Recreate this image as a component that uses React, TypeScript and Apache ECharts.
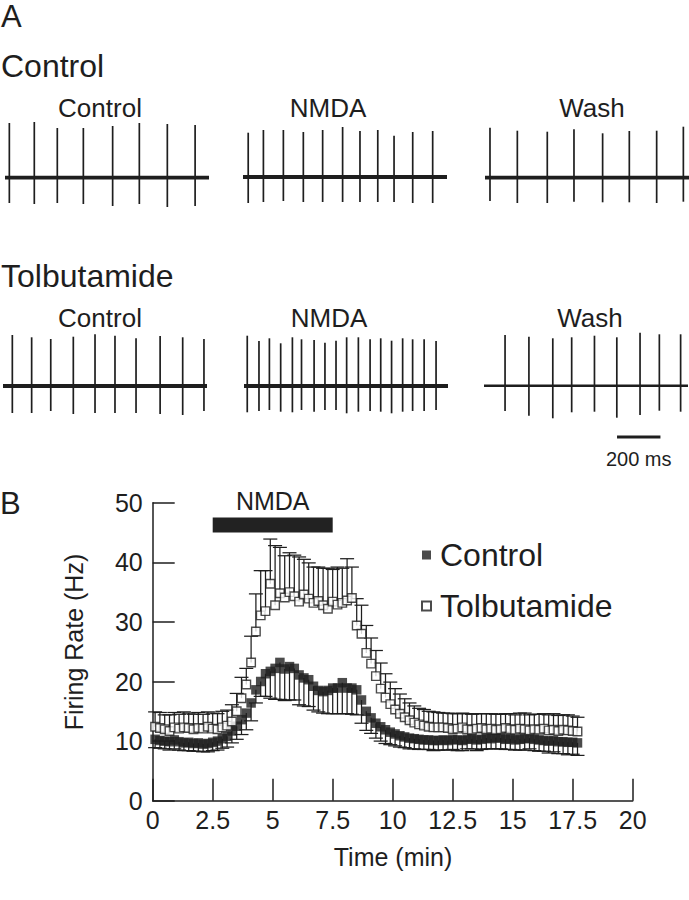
import React, { useEffect, useRef } from "react";
import * as echarts from "echarts";

const FONT = '"Liberation Sans", Arial, Helvetica, sans-serif';
const INK = "#1e1e1e";

// ---------- Panel A: spike trains, [time (ms), peak amplitude, trough amplitude] ----------
const TRACE_MS = 940;
const ctlControlSpikes = [[20, 54.7, 25.3], [135, 55.7, 26.3], [241, 49.7, 25.3], [361, 49.7, 26.3], [496, 51.7, 28.3], [619, 54.7, 26.3], [748, 53.7, 29.3], [876, 52.7, 28.3]];
const ctlNmdaSpikes = [[24, 44.3, 26], [94, 47, 25], [186, 47, 24], [278, 45, 25], [367, 47, 25], [459, 50, 25], [539, 46, 25], [621, 47, 25], [696, 41.3, 25], [782, 45, 26], [874, 46, 26]];
const ctlWashSpikes = [[23, 50, 23.3], [149, 47, 25.3], [287, 46, 25.3], [410, 48.4, 24], [542, 44.4, 24.6], [665, 46.7, 24.6], [791, 47, 25.3], [914, 51, 24]];
const tolControlSpikes = [[43, 51, 27], [132, 48.7, 27], [220, 47, 25], [324, 49.3, 28], [424, 51.7, 27], [516, 50.3, 27], [613, 47.7, 27], [724, 50, 28], [828, 48.7, 29], [926, 47, 25]];
const tolNmdaSpikes = [[15, 50.3, 26.3], [69, 45, 25], [117, 47.7, 24], [169, 42.7, 25.7], [223, 48.7, 26.3], [265, 46.7, 24], [323, 46, 25.7], [373, 43.3, 24], [424, 45.3, 24], [473, 48.7, 27.3], [527, 48.7, 25.7], [581, 46.7, 25], [630, 47.7, 25.7], [680, 45.3, 27.3], [731, 47.7, 25.7], [777, 46.7, 25], [830, 46.7, 25], [885, 45, 24]];
const tolWashSpikes = [[97, 50.7, 25.3], [207, 49, 30], [317, 47.4, 32.6], [404, 48.4, 26.6], [509, 50, 26], [612, 48.4, 32], [719, 53, 29.3], [808, 51.4, 25], [906, 51.4, 26]];
const scaleBarMs = 200;

// ---------- Panel B: firing rate (Hz) vs time (min) ----------
const timeMin = [
  0.1, 0.3, 0.5, 0.7, 0.9, 1.1, 1.3, 1.5, 1.7, 1.9,
  2.1, 2.3, 2.5, 2.7, 2.9, 3.1, 3.3, 3.5, 3.7, 3.9,
  4.1, 4.3, 4.5, 4.7, 4.9, 5.1, 5.3, 5.5, 5.7, 5.9,
  6.1, 6.3, 6.5, 6.7, 6.9, 7.1, 7.3, 7.5, 7.7, 7.9,
  8.1, 8.3, 8.5, 8.7, 8.9, 9.1, 9.3, 9.5, 9.7, 9.9,
  10.1, 10.3, 10.5, 10.7, 10.9, 11.1, 11.3, 11.5, 11.7, 11.9,
  12.1, 12.3, 12.5, 12.7, 12.9, 13.1, 13.3, 13.5, 13.7, 13.9,
  14.1, 14.3, 14.5, 14.7, 14.9, 15.1, 15.3, 15.5, 15.7, 15.9,
  16.1, 16.3, 16.5, 16.7, 16.9, 17.1, 17.3, 17.5, 17.7,
];
const controlRate = [
  10.3, 10.1, 10.0, 9.9, 10.2, 9.9, 9.7, 9.8, 9.6, 9.7,
  9.5, 9.6, 9.8, 10.0, 10.4, 10.8, 11.7, 12.5, 13.6, 14.7,
  16.4, 18.6, 20.0, 21.3, 21.7, 22.2, 23.2, 22.1, 22.5, 22.2,
  21.1, 20.6, 20.3, 19.2, 18.5, 18.3, 18.5, 18.9, 18.9, 19.8,
  18.9, 18.9, 18.6, 16.9, 15.0, 13.9, 13.0, 12.4, 11.9, 11.5,
  11.2, 10.9, 10.7, 10.5, 10.4, 10.3, 10.2, 10.2, 10.1, 10.1,
  10.2, 10.1, 10.3, 10.2, 10.1, 10.3, 10.4, 10.2, 10.3, 10.5,
  10.4, 10.6, 10.5, 10.3, 10.4, 10.2, 10.3, 10.4, 10.5, 10.3,
  10.2, 10.1, 10.0, 10.1, 9.9, 9.9, 9.8, 9.8, 9.7,
];
const controlErr = [
  1.4, 1.3, 1.3, 1.4, 1.5, 1.4, 1.3, 1.4, 1.3, 1.4,
  1.3, 1.4, 1.4, 1.5, 1.6, 1.8, 2.0, 2.2, 2.5, 2.8,
  3.0, 2.2, 2.5, 3.8, 4.5, 5.2, 6.2, 5.3, 5.6, 5.3,
  5.0, 4.7, 4.5, 4.0, 3.6, 3.6, 3.9, 4.3, 4.3, 5.2,
  4.3, 4.4, 4.2, 3.9, 3.2, 2.6, 2.5, 2.4, 2.3, 2.1,
  2.0, 1.9, 1.8, 1.8, 1.7, 1.7, 1.6, 1.6, 1.7, 1.6,
  1.7, 1.6, 1.7, 1.8, 1.7, 1.6, 1.7, 1.8, 1.7, 1.8,
  1.7, 1.9, 1.8, 1.7, 1.8, 1.7, 1.8, 1.9, 1.8, 1.9,
  1.9, 1.8, 2.0, 1.9, 2.0, 2.0, 2.1, 2.0, 2.1,
];
const tolbutamideRate = [
  12.4, 12.2, 12.0, 11.7, 12.3, 12.1, 12.3, 12.2, 12.0, 12.2,
  12.1, 12.4, 12.1, 12.0, 12.3, 12.6, 13.3, 15.0, 17.2, 19.5,
  23.2, 28.4, 31.1, 31.8, 36.4, 32.8, 34.8, 34.1, 35.0, 34.3,
  33.4, 34.6, 33.9, 33.2, 33.5, 32.8, 32.2, 33.4, 32.9, 33.2,
  33.6, 34.0, 29.4, 28.0, 24.8, 23.0, 20.9, 18.8, 17.3, 16.2,
  15.3, 14.6, 14.0, 13.5, 13.1, 12.8, 12.6, 12.4, 12.3, 12.3,
  12.3, 12.2, 12.0, 12.1, 12.3, 12.0, 11.9, 12.1, 12.2, 12.0,
  12.1, 11.9, 12.0, 12.2, 12.0, 11.9, 12.1, 12.0, 11.8, 12.0,
  11.9, 12.1, 11.8, 11.9, 11.7, 11.9, 11.8, 11.7, 11.6,
];
const tolbutamideErr = [
  2.5, 2.6, 2.4, 2.7, 2.5, 2.4, 2.6, 2.5, 2.5, 2.6,
  2.4, 2.5, 2.6, 2.6, 2.7, 2.6, 2.8, 3.0, 3.5, 2.7,
  4.4, 6.3, 7.5, 6.8, 7.5, 10.0, 7.7, 7.0, 6.6, 6.9,
  7.5, 5.9, 6.0, 6.0, 5.7, 6.2, 6.8, 5.4, 6.3, 5.8,
  7.0, 5.2, 4.5, 4.8, 4.6, 4.3, 4.3, 4.3, 4.0, 3.7,
  3.5, 3.3, 3.1, 2.9, 2.8, 2.7, 2.7, 2.6, 2.6, 2.5,
  2.4, 2.5, 2.6, 2.5, 2.4, 2.6, 2.6, 2.5, 2.4, 2.6,
  2.5, 2.6, 2.5, 2.4, 2.6, 2.5, 2.6, 2.7, 2.6, 2.5,
  2.6, 2.5, 2.6, 2.7, 2.6, 2.5, 2.6, 2.5, 2.4,
];
const nmdaPeriod = [[2.5, 7.5]];
const xTicks = [0, 2.5, 5, 7.5, 10, 12.5, 15, 17.5, 20];
const yTicks = [0, 10, 20, 30, 40, 50];

export default function App() {
  const ref = useRef<HTMLDivElement>(null);

  useEffect(() => {
    const chart = echarts.init(ref.current as HTMLDivElement, null, { renderer: "svg" });

    const traceLayout = [
      { spikes: ctlControlSpikes, left: 5, top: 107.7, base: 3.8 },
      { spikes: ctlNmdaSpikes, left: 243, top: 107, base: 3.8 },
      { spikes: ctlWashSpikes, left: 485, top: 107.7, base: 3.8 },
      { spikes: tolControlSpikes, left: 3, top: 316, base: 3.8 },
      { spikes: tolNmdaSpikes, left: 244, top: 316, base: 3.8 },
      { spikes: tolWashSpikes, left: 484, top: 315.7, base: 2.6 },
    ];

    const grids: any[] = [];
    const xAxes: any[] = [];
    const yAxes: any[] = [];
    const series: any[] = [];

    traceLayout.forEach((tr, k) => {
      grids.push({ left: tr.left, top: tr.top, width: 204, height: 150 });
      xAxes.push({ type: "value", gridIndex: k, min: 0, max: TRACE_MS, show: false });
      yAxes.push({ type: "value", gridIndex: k, min: -80, max: 70, show: false });
      series.push({
        type: "line",
        xAxisIndex: k,
        yAxisIndex: k,
        data: [[0, 0], [TRACE_MS, 0]],
        symbol: "none",
        silent: true,
        lineStyle: { color: INK, width: tr.base },
      });
      series.push({
        type: "custom",
        xAxisIndex: k,
        yAxisIndex: k,
        silent: true,
        data: tr.spikes,
        encode: { x: 0, y: 1 },
        renderItem: (_p: any, api: any) => {
          const t = api.value(0);
          const a = api.coord([t, api.value(1)]);
          const b = api.coord([t, -api.value(2)]);
          return {
            type: "line",
            shape: { x1: a[0], y1: a[1], x2: b[0], y2: b[1] },
            style: { stroke: INK, lineWidth: 1.7 },
          };
        },
      });
    });

    // scale bar in the last trace grid
    series.push({
      type: "custom",
      xAxisIndex: 5,
      yAxisIndex: 5,
      silent: true,
      data: [[613, scaleBarMs]],
      encode: { x: 0 },
      renderItem: (_p: any, api: any) => {
        const s = api.value(0);
        const len = api.value(1);
        const a = api.coord([s, -51.3]);
        const b = api.coord([s + len, -51.3]);
        return {
          type: "group",
          children: [
            { type: "line", shape: { x1: a[0], y1: a[1], x2: b[0], y2: b[1] }, style: { stroke: INK, lineWidth: 3 } },
            {
              type: "text",
              x: (a[0] + b[0]) / 2,
              y: a[1] + 21.5,
              style: { text: `${len} ms`, fontSize: 20, fontFamily: FONT, fill: INK, align: "center", verticalAlign: "middle" },
            },
          ],
        };
      },
    });

    // Panel B grid
    const G = 6;
    grids.push({ left: 152.7, top: 502.7, width: 480, height: 298 });
    xAxes.push({
      type: "value",
      gridIndex: G,
      min: xTicks[0],
      max: xTicks[xTicks.length - 1],
      interval: 2.5,
      axisLine: { onZero: false, lineStyle: { color: INK, width: 1.5 } },
      axisTick: { inside: true, length: 22, lineStyle: { color: INK, width: 1.5 } },
      axisLabel: { fontSize: 25, fontFamily: FONT, color: INK, margin: 7 },
      splitLine: { show: false },
    });
    yAxes.push({
      type: "value",
      gridIndex: G,
      min: yTicks[0],
      max: yTicks[yTicks.length - 1],
      interval: 10,
      axisLine: { show: true, onZero: false, lineStyle: { color: INK, width: 1.5 } },
      axisTick: { show: true, inside: true, length: 22, lineStyle: { color: INK, width: 1.5 } },
      axisLabel: { fontSize: 25, fontFamily: FONT, color: INK, margin: 10 },
      splitLine: { show: false },
    });

    const errSeries = (means: number[], errs: number[], dir: number) => ({
      type: "custom",
      xAxisIndex: G,
      yAxisIndex: G,
      z: 2,
      silent: true,
      data: timeMin.map((t, i) => [t, means[i], errs[i]]),
      encode: { x: 0, y: 1 },
      renderItem: (_p: any, api: any) => {
        const t = api.value(0);
        const m = api.value(1);
        const e = api.value(2);
        const a = api.coord([t, m]);
        const b = api.coord([t, m + dir * e]);
        return {
          type: "group",
          children: [
            { type: "line", shape: { x1: a[0], y1: a[1], x2: b[0], y2: b[1] }, style: { stroke: INK, lineWidth: 1.25 } },
            { type: "line", shape: { x1: b[0] - 7, y1: b[1], x2: b[0] + 7, y2: b[1] }, style: { stroke: INK, lineWidth: 1.25 } },
          ],
        };
      },
    });

    series.push(errSeries(tolbutamideRate, tolbutamideErr, 1));
    series.push(errSeries(controlRate, controlErr, -1));
    series.push({
      name: "Control",
      type: "scatter",
      xAxisIndex: G,
      yAxisIndex: G,
      z: 3,
      symbol: "rect",
      symbolSize: 9.5,
      data: timeMin.map((t, i) => [t, controlRate[i]]),
      itemStyle: { color: INK },
    });
    series.push({
      name: "Tolbutamide",
      type: "scatter",
      xAxisIndex: G,
      yAxisIndex: G,
      z: 4,
      symbol: "rect",
      symbolSize: 8.5,
      data: timeMin.map((t, i) => [t, tolbutamideRate[i]]),
      itemStyle: { color: "#ffffff", borderColor: INK, borderWidth: 1.4 },
    });
    // NMDA application bar
    series.push({
      type: "custom",
      xAxisIndex: G,
      yAxisIndex: G,
      z: 5,
      silent: true,
      data: nmdaPeriod,
      encode: { x: [0, 1] },
      renderItem: (_p: any, api: any) => {
        const a = api.coord([api.value(0), 47.5]);
        const b = api.coord([api.value(1), 45]);
        return {
          type: "group",
          children: [
            { type: "rect", shape: { x: a[0], y: a[1], width: b[0] - a[0], height: b[1] - a[1] }, style: { fill: "#222" } },
            {
              type: "text",
              x: (a[0] + b[0]) / 2,
              y: a[1] - 17,
              style: { text: "NMDA", fontSize: 25, fontFamily: FONT, fill: INK, align: "center", verticalAlign: "middle" },
            },
          ],
        };
      },
    });

    const txt = (text: string, x: number, y: number, size: number, align = "left", rotation = 0) => ({
      type: "text",
      x,
      y,
      rotation,
      style: { text, fontSize: size, fontFamily: FONT, fill: INK, align, verticalAlign: "middle" },
    });

    const option: any = {
      animation: false,
      backgroundColor: "#ffffff",
      grid: grids,
      xAxis: xAxes,
      yAxis: yAxes,
      series,
      legend: {
        orient: "vertical",
        left: 416,
        top: 532,
        itemWidth: 9,
        itemHeight: 9,
        itemGap: 15,
        selectedMode: false,
        data: ["Control", "Tolbutamide"],
        textStyle: { fontSize: 32, fontFamily: FONT, color: INK, lineHeight: 36, padding: [0, 0, 0, 4] },
      },
      graphic: [
        txt("A", 1, 16, 31),
        txt("Control", 1, 66, 32),
        txt("Tolbutamide", 1, 276, 32),
        txt("Control", 100, 108, 26, "center"),
        txt("NMDA", 328, 108, 26, "center"),
        txt("Wash", 592, 108, 26, "center"),
        txt("Control", 100, 318, 26, "center"),
        txt("NMDA", 329, 318, 26, "center"),
        txt("Wash", 590, 318, 26, "center"),
        txt("B", 0, 503, 31),
        txt("Firing Rate (Hz)", 74, 642, 25, "center", Math.PI / 2),
        txt("Time (min)", 393, 857, 25, "center"),
      ],
    };

    chart.setOption(option);
    return () => chart.dispose();
  }, []);

  return (
    <div
      ref={ref}
      style={{ position: "absolute", left: 0, top: 0, width: 689, height: 900, background: "#ffffff" }}
    />
  );
}
